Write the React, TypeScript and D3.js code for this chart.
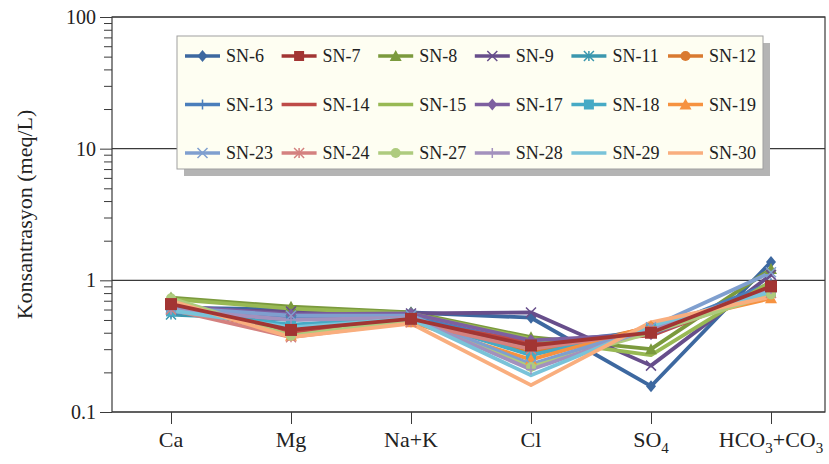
import React, { useEffect, useRef } from 'react';
import * as d3 from 'd3';

// categories on the x axis (digits are drawn as subscripts)
const categories = ['Ca', 'Mg', 'Na+K', 'Cl', 'SO4', 'HCO3+CO3'];

const seriesNames = [
  'SN-6', 'SN-7', 'SN-8', 'SN-9', 'SN-11', 'SN-12',
  'SN-13', 'SN-14', 'SN-15', 'SN-17', 'SN-18', 'SN-19',
  'SN-23', 'SN-24', 'SN-27', 'SN-28', 'SN-29', 'SN-30',
];

// meq/L, in category order
const sn6 = [0.62, 0.6, 0.57, 0.52, 0.157, 1.38];
const sn7 = [0.66, 0.42, 0.51, 0.32, 0.4, 0.9];
const sn8 = [0.74, 0.63, 0.57, 0.37, 0.3, 1.22];
const sn9 = [0.6, 0.58, 0.56, 0.57, 0.225, 1.1];
const sn11 = [0.55, 0.5, 0.54, 0.3, 0.42, 0.88];
const sn12 = [0.7, 0.4, 0.5, 0.28, 0.44, 0.78];
const sn13 = [0.57, 0.52, 0.53, 0.33, 0.41, 0.95];
const sn14 = [0.63, 0.4, 0.49, 0.34, 0.38, 0.85];
const sn15 = [0.72, 0.61, 0.56, 0.36, 0.27, 0.98];
const sn17 = [0.64, 0.55, 0.56, 0.35, 0.39, 0.85];
const sn18 = [0.58, 0.46, 0.52, 0.27, 0.43, 0.82];
const sn19 = [0.68, 0.38, 0.48, 0.25, 0.45, 0.73];
const sn23 = [0.62, 0.54, 0.54, 0.23, 0.44, 1.15];
const sn24 = [0.6, 0.37, 0.48, 0.3, 0.41, 0.8];
const sn27 = [0.73, 0.38, 0.5, 0.22, 0.4, 0.78];
const sn28 = [0.6, 0.5, 0.52, 0.21, 0.43, 0.86];
const sn29 = [0.59, 0.44, 0.51, 0.19, 0.45, 0.82];
const sn30 = [0.7, 0.37, 0.47, 0.16, 0.48, 0.75];

const seriesValues = [
  sn6, sn7, sn8, sn9, sn11, sn12,
  sn13, sn14, sn15, sn17, sn18, sn19,
  sn23, sn24, sn27, sn28, sn29, sn30,
];

const colors = [
  '#3d68a0', '#a23533', '#7b9a3d', '#674e8b', '#3b97ae', '#d97a30',
  '#4a7ebb', '#be4b48', '#98b954', '#7d5fa0', '#46aac5', '#f69240',
  '#7f9fcf', '#d4817f', '#aecb7e', '#a391bd', '#79c3d9', '#f9ae7e',
];

const markers = [
  'diamond', 'square', 'triangle', 'x', 'star', 'circle',
  'plus', 'none', 'none', 'diamond', 'square', 'triangle',
  'x', 'star', 'circle', 'plus', 'none', 'none',
];

const majorTicks = [0.1, 1, 10, 100];
const majorTickLabels = ['0.1', '1', '10', '100'];

const width = 829;
const height = 464;
const margin = { top: 17, right: 4, bottom: 52, left: 112 };
const font = '"Liberation Serif", "Times New Roman", serif';

function drawMarker(g, type, x, y, color, s = 5) {
  if (type === 'diamond') {
    g.append('path').attr('d', `M${x},${y - s - 1}L${x + s},${y}L${x},${y + s + 1}L${x - s},${y}Z`).attr('fill', color);
  } else if (type === 'square') {
    g.append('rect').attr('x', x - s).attr('y', y - s).attr('width', 2 * s).attr('height', 2 * s).attr('fill', color);
  } else if (type === 'triangle') {
    g.append('path').attr('d', `M${x},${y - s - 1}L${x + s + 1},${y + s}L${x - s - 1},${y + s}Z`).attr('fill', color);
  } else if (type === 'circle') {
    g.append('circle').attr('cx', x).attr('cy', y).attr('r', s).attr('fill', color);
  } else if (type === 'x' || type === 'star' || type === 'plus') {
    let d = '';
    if (type !== 'plus') d += `M${x - s},${y - s}L${x + s},${y + s}M${x - s},${y + s}L${x + s},${y - s}`;
    if (type === 'star') d += `M${x},${y - s}L${x},${y + s}`;
    if (type === 'plus') d += `M${x - s},${y}L${x + s},${y}M${x},${y - s}L${x},${y + s}`;
    g.append('path').attr('d', d).attr('stroke', color).attr('stroke-width', 1.5).attr('fill', 'none');
  }
}

// "SO4" -> [["SO", false], ["4", true]]
function labelParts(label) {
  return label.split(/(\d+)/).filter(p => p !== '').map(p => [p, /^\d+$/.test(p)]);
}

export default function App() {
  const ref = useRef(null);

  useEffect(() => {
    const svg = d3.select(ref.current);
    svg.selectAll('*').remove();

    const x0 = margin.left;
    const x1 = width - margin.right;
    const y1 = height - margin.bottom;

    const xScale = d3.scalePoint()
      .domain(categories)
      .range([x0 + 59, x1 - 54]);

    const yScale = d3.scaleLog()
      .domain([0.1, 100])
      .range([y1, margin.top]);

    svg.append('rect').attr('width', width).attr('height', height).attr('fill', '#fff');

    // gridlines
    svg.append('g')
      .selectAll('line')
      .data(majorTicks)
      .enter()
      .append('line')
      .attr('x1', x0)
      .attr('x2', x1)
      .attr('y1', d => yScale(d))
      .attr('y2', d => yScale(d))
      .attr('stroke', '#3a3a3a')
      .attr('stroke-width', 1.2);

    // frame
    svg.append('rect')
      .attr('x', x0).attr('y', margin.top)
      .attr('width', x1 - x0).attr('height', y1 - margin.top)
      .attr('fill', 'none').attr('stroke', '#3a3a3a').attr('stroke-width', 1.2);

    // y axis with minor ticks
    const minor = [];
    [0.1, 1, 10].forEach(dec => { for (let k = 2; k <= 9; k++) minor.push(k * dec); });
    svg.append('g')
      .attr('transform', `translate(${x0},0)`)
      .call(d3.axisLeft(yScale).tickValues(minor).tickSize(8).tickFormat(() => ''))
      .call(g => g.select('.domain').remove())
      .selectAll('line').attr('stroke', '#3a3a3a');

    const yAxis = svg.append('g')
      .attr('transform', `translate(${x0},0)`)
      .call(d3.axisLeft(yScale).tickValues(majorTicks).tickSize(12).tickPadding(4)
        .tickFormat((d, i) => majorTickLabels[i]));
    yAxis.select('.domain').remove();
    yAxis.selectAll('line').attr('stroke', '#3a3a3a');
    yAxis.selectAll('text')
      .attr('font-family', font)
      .attr('font-size', 20)
      .attr('fill', '#222');

    svg.append('text')
      .attr('transform', 'rotate(-90)')
      .attr('x', -(margin.top + y1) / 2)
      .attr('y', 32)
      .attr('text-anchor', 'middle')
      .attr('font-family', font)
      .attr('font-size', 22)
      .attr('fill', '#222')
      .text('Konsantrasyon (meq/L)');

    // x axis
    const xAxis = svg.append('g')
      .attr('transform', `translate(0,${y1})`)
      .call(d3.axisBottom(xScale).tickSize(12).tickFormat(() => ''));
    xAxis.select('.domain').remove();
    xAxis.selectAll('line').attr('stroke', '#3a3a3a');

    categories.forEach(c => {
      const t = svg.append('text')
        .attr('x', xScale(c))
        .attr('y', 447)
        .attr('text-anchor', 'middle')
        .attr('font-family', font)
        .attr('font-size', 22)
        .attr('fill', '#222');
      labelParts(c).forEach(([s, sub]) => {
        const ts = t.append('tspan').text(s);
        if (sub) ts.attr('font-size', 15).attr('dy', 6);
        else ts.attr('dy', t.selectAll('tspan').size() > 1 ? -6 : 0);
      });
    });

    // series lines; SN-7 is painted last, as in the source chart
    const line = d3.line()
      .x((d, i) => xScale(categories[i]))
      .y(d => yScale(d));

    const order = seriesValues.map((_, i) => i).filter(i => i !== 1).concat([1]);
    const plot = svg.append('g');
    order.forEach(si => {
      plot.append('path')
        .datum(seriesValues[si])
        .attr('fill', 'none')
        .attr('stroke', colors[si])
        .attr('stroke-width', 3.8)
        .attr('stroke-linejoin', 'round')
        .attr('d', line);
    });
    order.forEach(si => {
      seriesValues[si].forEach((v, i) =>
        drawMarker(plot, markers[si], xScale(categories[i]), yScale(v), colors[si], si === 1 ? 6 : 5));
    });

    // legend
    const lx = 177, ly = 36, lw = 586, lh = 133;
    const legend = svg.append('g');
    legend.append('rect')
      .attr('x', lx + 7).attr('y', ly + 7).attr('width', lw).attr('height', lh)
      .attr('fill', '#b4b4b4');
    legend.append('rect')
      .attr('x', lx).attr('y', ly).attr('width', lw).attr('height', lh)
      .attr('fill', '#fefef2').attr('stroke', '#a0a0a0').attr('stroke-width', 1);

    seriesNames.forEach((name, si) => {
      const col = si % 6;
      const row = Math.floor(si / 6);
      const ex = 185 + col * 96.6;
      const ey = 56 + row * 48.5;
      legend.append('line')
        .attr('x1', ex).attr('x2', ex + 35)
        .attr('y1', ey).attr('y2', ey)
        .attr('stroke', colors[si]).attr('stroke-width', 3.5);
      drawMarker(legend, markers[si], ex + 17.5, ey, colors[si]);
      legend.append('text')
        .attr('x', ex + 41)
        .attr('y', ey)
        .attr('dy', '0.35em')
        .attr('font-family', font)
        .attr('font-size', 18)
        .attr('fill', '#222')
        .text(name);
    });
  }, []);

  return (
    <div style={{ position: 'absolute', left: 0, top: 0 }}>
      <svg ref={ref} width={width} height={height} style={{ display: 'block' }} />
    </div>
  );
}
